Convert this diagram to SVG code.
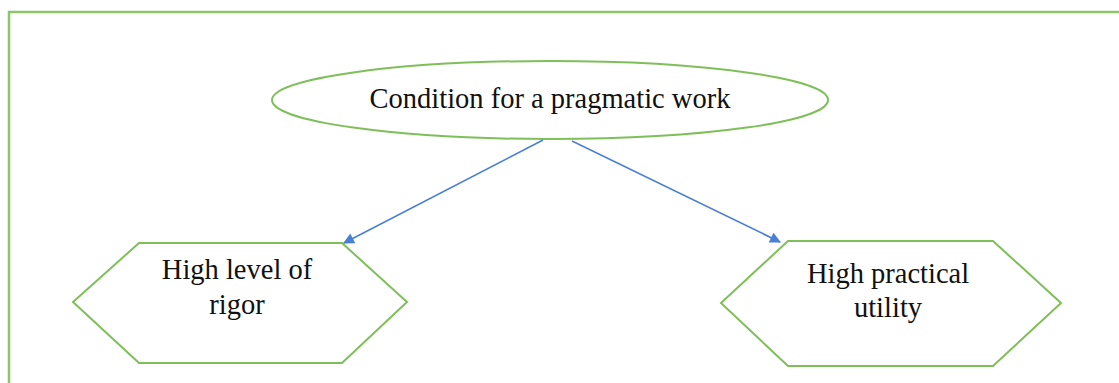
<svg xmlns="http://www.w3.org/2000/svg" width="1119" height="383" viewBox="0 0 1119 383">
<style>
.shape{fill:#ffffff;stroke:#7fbf5a;stroke-width:2}
.frame{fill:none;stroke:#8cc56a;stroke-width:2.5}
.conn{stroke:#4a7fd6;stroke-width:1.6;fill:none}
text{font-family:"Liberation Serif","Times New Roman",serif;font-size:28.5px;fill:#111;text-anchor:middle}
</style>
<defs>
<marker id="ah" viewBox="0 0 10 10" refX="9" refY="5" markerWidth="12" markerHeight="11" markerUnits="userSpaceOnUse" orient="auto">
<path d="M0,0 L10,5 L0,10 z" fill="#4a7fd6"/>
</marker>
</defs>
<rect width="1119" height="383" fill="#ffffff"/>
<rect class="frame" x="9" y="12" width="1130" height="390"/>
<g id="node-condition">
<ellipse class="shape" cx="550" cy="100" rx="278" ry="39"/>
<text x="550" y="108">Condition for a pragmatic work</text>
</g>
<g id="node-rigor">
<polygon class="shape" points="73,302 139,243 342,243 407,302 342,363 139,363"/>
<text x="237" y="279">High level of</text>
<text x="237" y="314">rigor</text>
</g>
<g id="node-utility">
<polygon class="shape" points="721,303 788,241 993,241 1061,303 993,366 788,366"/>
<text x="888" y="283">High practical</text>
<text x="888" y="317">utility</text>
</g>
<g id="connectors">
<line class="conn" x1="543" y1="140" x2="344" y2="243" marker-end="url(#ah)"/>
<line class="conn" x1="572" y1="141" x2="780" y2="242" marker-end="url(#ah)"/>
</g>
</svg>
